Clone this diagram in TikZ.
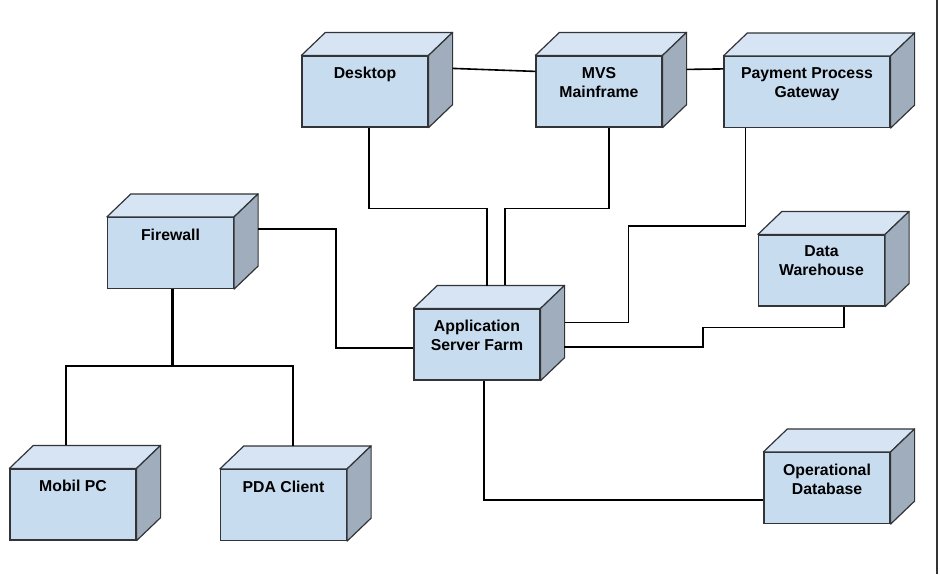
\documentclass[tikz,border=0pt]{standalone}
\usepackage{fontspec}
\setmainfont{Liberation Sans}
\usetikzlibrary{calc}
\definecolor{facefront}{RGB}{200,220,240}
\definecolor{facetop}{RGB}{214,228,243}
\definecolor{faceside}{RGB}{160,173,188}
\definecolor{edgegray}{RGB}{50,52,56}
\begin{document}
\begin{tikzpicture}
  [x=1pt,y=-1pt,
   device/.style={draw=edgegray,line width=1.2pt,fill=facefront,minimum width=126pt,minimum height=71pt,inner sep=0pt},
   boxtext/.style={font=\bfseries\fontsize{15.8}{19}\selectfont,align=center,anchor=north,inner sep=0pt,yshift=-11.5pt},
   face/.style={draw=edgegray,line width=1.2pt,line join=round},
   link/.style={line width=1.6pt}]
  \useasboundingbox (0,0) rectangle (940,574);

  \node[device,label={[boxtext]north:Desktop}] (desk) at (365,91.5) {};
  \node[device,label={[boxtext]north:{MVS\\Mainframe}}] (mvs) at (599,91.5) {};
  \node[device,minimum width=166pt,label={[boxtext]north:{Payment Process\\Gateway}}] (pay) at (807,92) {};
  \node[device,label={[boxtext]north:Firewall}] (fw) at (170.5,253) {};
  \node[device,label={[boxtext]north:{Application\\Server Farm}}] (asf) at (477,344.5) {};
  \node[device,label={[boxtext]north:{Data\\Warehouse}}] (dw) at (821.5,270.5) {};
  \node[device,label={[boxtext]north:Mobil PC}] (mob) at (73,504.5) {};
  \node[device,label={[boxtext]north:PDA Client}] (pda) at (283.5,505) {};
  \node[device,label={[boxtext]north:{Operational\\Database}}] (odb) at (827,488) {};

  % top and side faces
  \foreach \n in {desk,mvs,pay,fw,asf,dw,mob,pda,odb} {
    \filldraw[face,fill=facetop] (\n.north west) -- ++(24,-23) -- ($(\n.north east)+(24,-23)$) -- (\n.north east) -- cycle;
    \filldraw[face,fill=faceside] (\n.north east) -- ++(24,-23) -- ($(\n.south east)+(24,-23)$) -- (\n.south east) -- cycle;
  }

  % connectors
  \draw[link] ($(desk.north east)+(24,13)$) -- ($(mvs.north west)+(0,16)$);
  \draw[link] ($(mvs.north east)+(24,14)$) -- ($(pay.north west)+(0,13)$);
  \draw[link] ($(desk.south)+(4,0)$) -- ++(0,81) -| ($(asf.north)+(10,-22)$);
  \draw[link] ($(mvs.south)+(10,0)$) -- ++(0,81) -| ($(asf.north)+(28,-23)$);
  \draw[link] ($(pay.south west)+(22,0)$) -- ++(0,98) -- ++(-117,0) |- ($(asf.north east)+(24,14)$);
  \draw[link] ($(dw.south)+(22.5,0)$) -- ++(0,21) -- ++(-141,0) |- ($(asf.east)+(23,2.5)$);
  \draw[link] ($(fw.north east)+(24,12)$) -- ++(78,0) |- ($(asf.west)+(0,3.5)$);
  \draw[link] ($(asf.south)+(7,0)$) |- ($(odb.west)+(0,12)$);

  \coordinate (split) at ($(fw.south)+(1.5,77)$);
  \draw[line width=3pt] ($(fw.south)+(1.5,0)$) -- (split);
  \draw[link] (split) -| ($(mob.north)+(-7,-23)$);
  \draw[link] (split) -| ($(pda.north)+(9.5,-23)$);

  \draw[edgegray,line width=1.5pt] (937,0) -- (937,574);
\end{tikzpicture}
\end{document}
